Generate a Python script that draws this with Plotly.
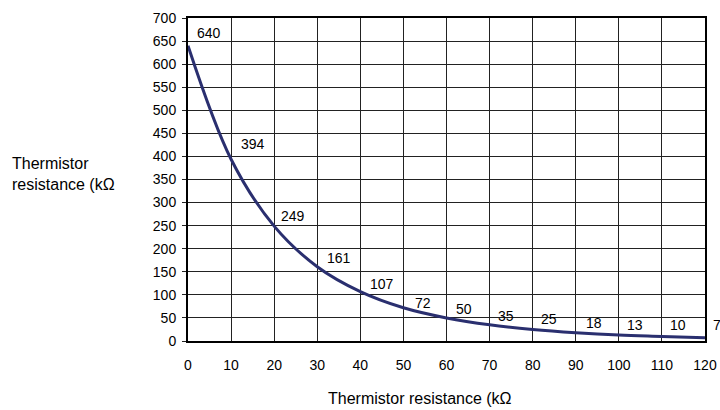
import plotly.graph_objects as go

resistance_x = [0, 10, 20, 30, 40, 50, 60, 70, 80, 90, 100, 110, 120]
resistance_y = [640, 394, 249, 161, 107, 72, 50, 35, 25, 18, 13, 10, 7]
x_ticks = list(range(0, 121, 10))
y_ticks = list(range(0, 701, 50))
x_title = "Thermistor resistance (kΩ"
y_title = "Thermistor<br>resistance (kΩ"

# label pixel offsets (style)
label_dx = [21, 22, 19, 22, 22, 20, 17, 16, 16, 18, 16, 16, 12]
label_dy = [13, 15, 10, 9, 8, 5, 9, 9, 10, 10, 10, 11, 13]

FONT = "Liberation Sans, Arial, sans-serif"

fig = go.Figure()
fig.add_trace(go.Scatter(
    x=resistance_x, y=resistance_y, mode="lines",
    line=dict(color="#2a2f6f", width=3, shape="spline", smoothing=1.0),
    hoverinfo="x+y", showlegend=False, cliponaxis=False,
))

for xv, yv, dx, dy in zip(resistance_x, resistance_y, label_dx, label_dy):
    fig.add_annotation(x=xv, y=yv, text=str(yv), showarrow=False,
                       xshift=dx, yshift=dy,
                       font=dict(family=FONT, size=14, color="#000"))

fig.add_annotation(xref="paper", yref="paper", x=(420 - 188) / 517, y=(341 - 398) / 323,
                   xanchor="center", yanchor="middle",
                   text=x_title, showarrow=False,
                   font=dict(family=FONT, size=16, color="#000"))
fig.add_annotation(xref="paper", yref="paper", x=(10 - 188) / 517, y=(341 - 174) / 323,
                   xanchor="left", yanchor="middle", align="left", text=y_title,
                   showarrow=False,
                   font=dict(family=FONT, size=16, color="#000"))

fig.update_layout(
    width=720, height=410, autosize=False,
    margin=dict(l=188, r=15, t=18, b=69),
    paper_bgcolor="white", plot_bgcolor="white",
    font=dict(family=FONT, size=14, color="#000"),
    xaxis=dict(range=[0, 120], tickvals=x_ticks, showgrid=True, gridcolor="#222",
               gridwidth=1, showline=True, linecolor="#000", linewidth=2, mirror=True,
               ticks="", ticklabelstandoff=10, zeroline=False, automargin=False,
               tickfont=dict(family=FONT, size=14, color="#000")),
    yaxis=dict(range=[0, 700], tickvals=y_ticks, showgrid=True, gridcolor="#222",
               gridwidth=1, showline=True, linecolor="#000", linewidth=2, mirror=True,
               ticks="outside", ticklen=4, tickcolor="#222", ticklabelstandoff=3,
               zeroline=False, automargin=False,
               tickfont=dict(family=FONT, size=14, color="#000")),
)

fig.write_html(
    "out.html",
    config={"responsive": False, "displayModeBar": False},
    post_script="document.body.style.margin='0';document.body.style.overflow='hidden';"
                "Plotly.relayout('{plot_id}', {width: 720, height: 410});",
)
